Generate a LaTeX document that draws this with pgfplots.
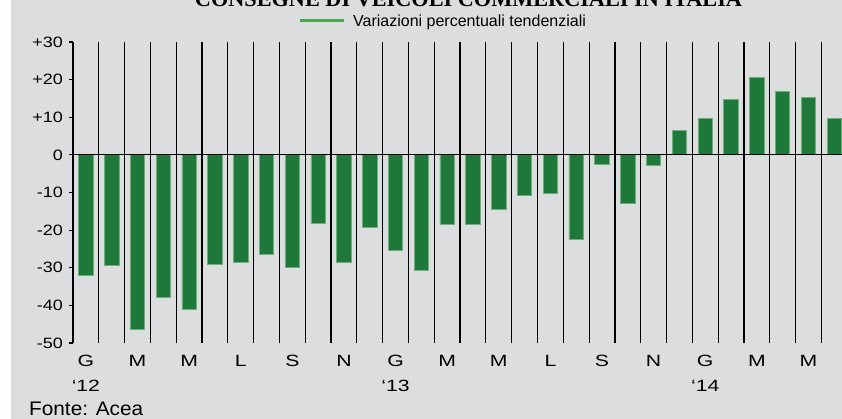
\documentclass[border=0pt]{standalone}
\usepackage{pgfplots}
\pgfplotsset{compat=1.18}
\usepackage{pgfplotstable}
\usepackage{graphicx}
\usepackage{fontspec}
\setmainfont{Liberation Sans}
\newfontfamily\yfont[FakeStretch=1.2]{Liberation Sans}
\newfontfamily\xfont[FakeStretch=1.3]{Liberation Sans}
\newfontfamily\fontefont[FakeStretch=1.06]{Liberation Sans}
\newfontfamily\titlefont{Liberation Serif}
\definecolor{bg}{RGB}{220,221,223}
\definecolor{barfill}{RGB}{29,120,58}
\definecolor{baredge}{RGB}{110,175,122}
\definecolor{leg}{RGB}{76,166,76}

\pgfplotstableread{
x y
0 -32.0
1 -29.4
2 -46.4
3 -37.9
4 -41.0
5 -29.0
6 -28.7
7 -26.5
8 -29.9
9 -18.3
10 -28.6
11 -19.2
12 -25.4
13 -30.6
14 -18.4
15 -18.4
16 -14.6
17 -10.8
18 -10.3
19 -22.5
20 -2.6
21 -13.0
22 -2.9
23 6.5
24 9.8
25 14.8
26 20.5
27 16.9
28 15.3
29 9.8
}\datatable

\begin{document}
\begin{tikzpicture}
\fill[bg] (11bp,0bp) rectangle (842bp,419bp);
\coordinate (SW) at (73bp,76bp);
\begin{axis}[
  at={(SW)}, anchor=south west,
  scale only axis, width=769bp, height=301bp,
  xmin=-0.5, xmax=29.3, ymin=-50, ymax=30,
  axis y line*=left, axis x line*=bottom,
  x axis line style={draw=none},
  y axis line style={black, line width=1.8bp},
  tick align=outside, major tick length=4bp, minor tick length=0pt,
  xtick={0,2,...,28},
  xticklabels={{G\\‘12},M,M,L,S,N,{G\\‘13},M,M,L,S,N,{G\\‘14},M,M},
  x tick style={draw=none},
  minor xtick={0.5,1.5,...,28.5},
  xminorgrids, minor grid style={black, line width=1.2bp},
  ytick={-50,-40,...,30},
  yticklabels={-50,-40,-30,-20,-10,0,+10,+20,+30},
  y tick style={black, line width=1.2bp},
  xticklabel style={align=center, anchor=north, inner sep=0pt, yshift=-8bp,
    font=\xfont\fontsize{16.3bp}{24.7bp}\selectfont},
  yticklabel style={anchor=east, inner sep=0pt, xshift=-6bp,
    font=\yfont\fontsize{15bp}{18bp}\selectfont},
  legend style={at={(0.2926,1.0698)}, anchor=west, draw=none, fill=none,
    inner sep=0pt, nodes={inner sep=0pt},
    font=\fontsize{16bp}{19bp}\selectfont,
    /tikz/every odd column/.append style={column sep=8bp}},
]
\addplot[ybar, bar width=0.56, fill=barfill, draw=baredge, line width=0.8bp,
  legend image code/.code={\draw[leg, line width=3bp] (0bp,0bp) -- (44bp,0bp);}]
  table[x=x, y=y] {\datatable};
\addlegendentry{Variazioni percentuali tendenziali}
\draw[black, line width=1.2bp] (axis cs:-0.5,0) -- (axis cs:29.3,0);
\end{axis}
\node[inner sep=0pt, anchor=base] at (468.5bp,412bp)
  {\resizebox{547bp}{!}{\titlefont\bfseries CONSEGNE DI VEICOLI COMMERCIALI IN ITALIA}};
\node[anchor=base west, inner sep=0pt, font=\fontefont\fontsize{19.6bp}{22bp}\selectfont]
  at (29bp,4bp) {Fonte: Acea};
\pgfresetboundingbox
\path[use as bounding box] (0bp,0bp) rectangle (842bp,419bp);
\end{tikzpicture}
\end{document}
